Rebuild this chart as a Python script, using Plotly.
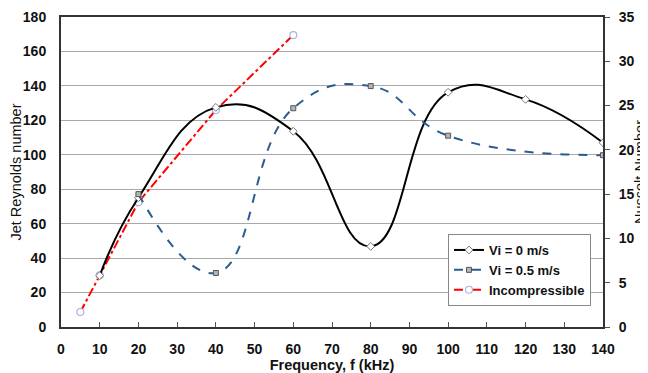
import plotly.graph_objects as go

# Data
freq_vi0 = [10, 20, 40, 60, 80, 100, 120, 140]
nu_vi0 = [5.8, 14.6, 24.8, 22.1, 9.1, 26.5, 25.7, 20.8]

freq_vi05 = [20, 40, 60, 80, 100, 140]
nu_vi05 = [15.0, 6.1, 24.7, 27.2, 21.6, 19.4]

freq_inc = [5, 10, 20, 40, 60]
re_inc = [8.7, 30, 72.5, 126, 169.5]

x_ticks = list(range(0, 141, 10))
y_ticks = list(range(0, 181, 20))
y2_ticks = list(range(0, 36, 5))

FONT = "Liberation Sans, Arial, sans-serif"

fig = go.Figure()

fig.add_trace(go.Scatter(
    x=freq_vi0, y=nu_vi0, yaxis="y2", name="Vi = 0 m/s",
    mode="lines+markers",
    line=dict(color="#000000", width=2, shape="spline", smoothing=1.3),
    marker=dict(symbol="diamond", size=6, color="white", line=dict(color="#777777", width=1)),
))
fig.add_trace(go.Scatter(
    x=freq_vi05, y=nu_vi05, yaxis="y2", name="Vi = 0.5 m/s",
    mode="lines+markers",
    line=dict(color="#2b5b91", width=2, dash="dash", shape="spline", smoothing=1.3),
    marker=dict(symbol="square", size=5, color="#b5b5b5", line=dict(color="#555555", width=1)),
))
fig.add_trace(go.Scatter(
    x=freq_inc, y=re_inc, yaxis="y", name="Incompressible",
    mode="lines+markers",
    line=dict(color="#ff0000", width=2, dash="dashdot"),
    marker=dict(symbol="circle", size=7, color="white", line=dict(color="#b0b0dd", width=1.2)),
))

fig.update_layout(
    width=640, height=365,
    margin=dict(l=53, r=45, t=9, b=46),
    paper_bgcolor="white", plot_bgcolor="white",
    font=dict(family=FONT, size=14, color="#111111"),
    xaxis=dict(
        range=[0, 140], tickvals=x_ticks, ticktext=[str(v) for v in x_ticks],
        showgrid=False, zeroline=False, automargin=False,
        showline=True, linecolor="#333333", linewidth=2, mirror=True,
        ticks="inside", ticklen=5, tickcolor="#555555",
        tickfont=dict(family=FONT, size=14, weight="bold"),
        ticklabelstandoff=8,
        title=dict(text="<b>Frequency, f (kHz)</b>", font=dict(family=FONT, size=14.5), standoff=4),
    ),
    yaxis=dict(
        range=[0, 180], tickvals=y_ticks, ticktext=[str(v) for v in y_ticks],
        showgrid=True, gridcolor="#a8a8a8", gridwidth=1, zeroline=False, automargin=False,
        showline=True, linecolor="#333333", linewidth=2, mirror=True,
        ticks="", ticklabelstandoff=10,
        tickfont=dict(family=FONT, size=14, weight="bold"),
        title=dict(text="Jet Reynolds number", font=dict(family=FONT, size=14.5), standoff=4),
    ),
    yaxis2=dict(
        range=[0, 35], tickvals=y2_ticks, ticktext=[str(v) for v in y2_ticks],
        overlaying="y", side="right", automargin=False,
        showgrid=False, zeroline=False,
        showline=True, linecolor="#333333", linewidth=2,
        ticks="outside", ticklen=5, tickcolor="#555555",
        tickfont=dict(family=FONT, size=14, weight="bold"),
        ticklabelstandoff=6,
        title=dict(text="Nusselt Number", font=dict(family=FONT, size=14.5), standoff=12),
    ),
    legend=dict(
        x=0.714, y=0.30, xanchor="left", yanchor="top",
        bgcolor="white", bordercolor="#888888", borderwidth=1,
        font=dict(family=FONT, size=13, weight="bold"),
        itemwidth=30, tracegroupgap=0,
    ),
    showlegend=True,
)

fig.write_html("out.html")
